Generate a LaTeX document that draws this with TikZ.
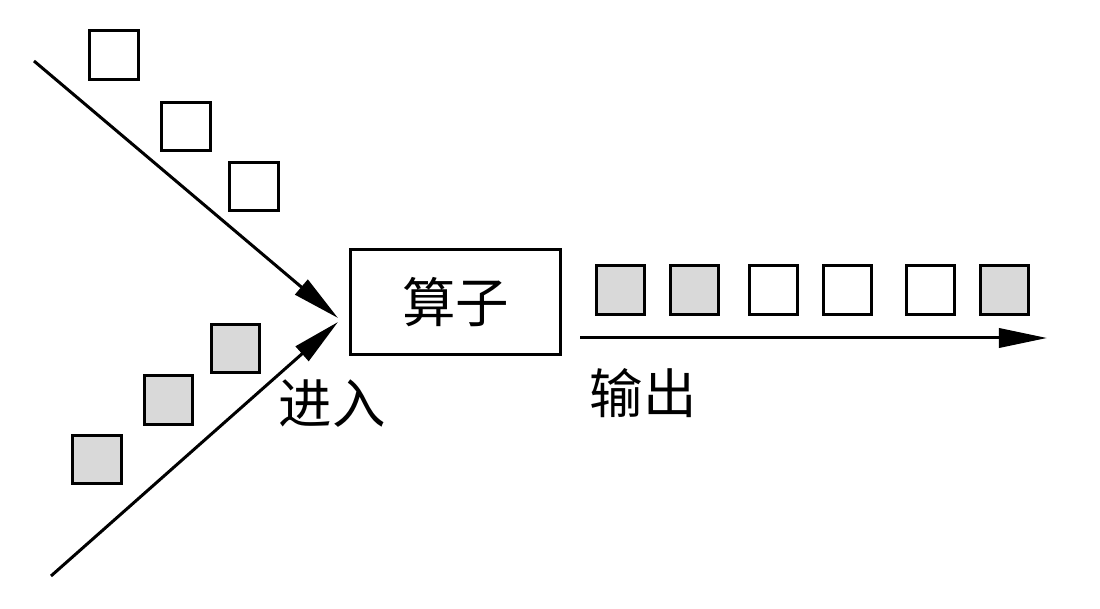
\documentclass[tikz,border=0pt]{standalone}
\usepackage{fontspec}
\newfontfamily\cjk{Noto Sans CJK SC}
\usepackage{tikz}
\usetikzlibrary{arrows.meta}

\begin{document}
\begin{tikzpicture}[x=0.025cm,y=-0.025cm,line width=0.075cm,
sqw/.style={draw,rectangle,minimum size=1.2cm,inner sep=0pt},
sqg/.style={sqw,fill=gray!30},
opbox/.style={draw,rectangle,minimum width=5.25cm,minimum height=2.625cm,inner sep=0pt,font=\cjk\fontsize{38}{40}\selectfont},
lbl/.style={font=\cjk\fontsize{38}{40}\selectfont,inner sep=0pt},
flow/.style={-{Triangle[length=1.2cm,width=0.48cm]}}]
\useasboundingbox (0,0) rectangle (1100,609);
% incoming, upper
\node (up1) [sqw] at (114,55) {};
\node (up2) [sqw] at (186,126.5) {};
\node (up3) [sqw] at (254,186.5) {};
% incoming, lower
\node (lo1) [sqg] at (235.5,348.5) {};
\node (lo2) [sqg] at (168.5,400) {};
\node (lo3) [sqg] at (97,459.5) {};
% operator
\node (op) [opbox] at (455.5,302) {算子};
% output row
\node (out1) [sqg] at (620.5,290) {};
\node (out2) [sqg] at (694.5,290) {};
\node (out3) [sqw] at (773,290) {};
\node (out4) [sqw] at (847,290) {};
\node (out5) [sqw] at (930,290) {};
\node (out6) [sqg] at (1004.5,290) {};
% labels
\node (inlbl) [lbl] at (332,404) {进入};
\node (outlbl) [lbl] at (643,393) {输出};
% connectors
\coordinate (srcup) at (34,61);
\coordinate (srclo) at (51,576);
\coordinate (tipup) at (338,318);
\coordinate (tiplo) at (338,322);
\coordinate (outst) at (580,338);
\coordinate (outend) at (1047,338);
\draw [flow] (srcup) -- (tipup);
\draw [flow] (srclo) -- (tiplo);
\draw [flow] (outst) -- (outend);
\end{tikzpicture}
\end{document}
